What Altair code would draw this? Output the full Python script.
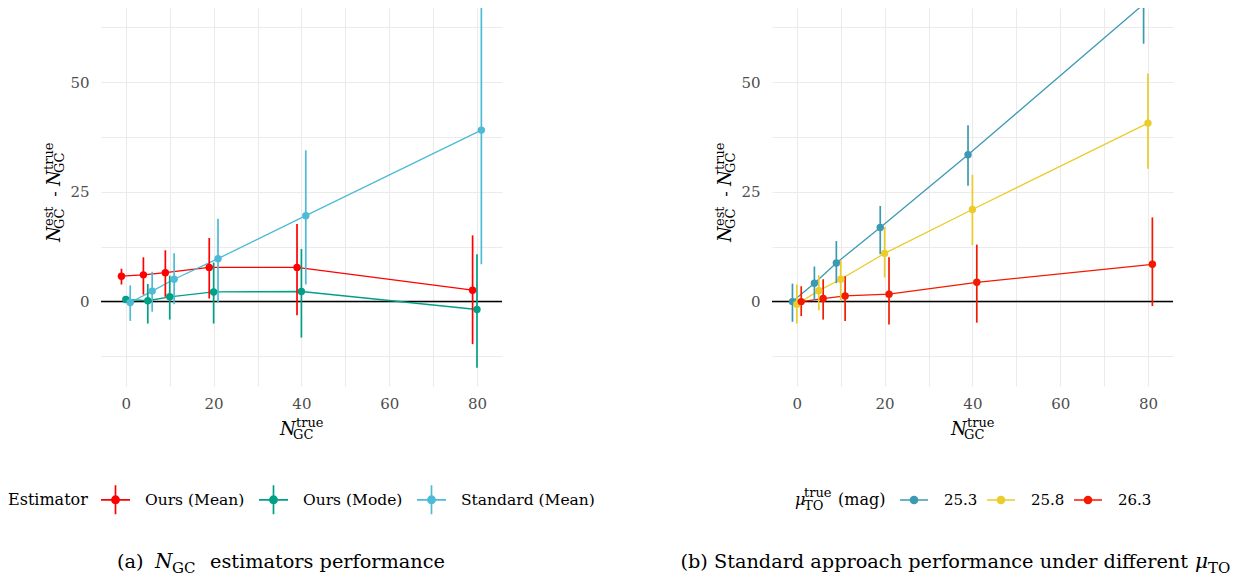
import altair as alt
import pandas as pd

FONT = "DejaVu Serif, Liberation Serif, serif"

# ---------------- data ----------------
N_TRUE = [0, 5, 10, 20, 40, 80]

EST_NAMES = ["Ours (Mean)", "Ours (Mode)", "Standard (Mean)"]
EST_COLORS = ["#FF0000", "#00A087", "#4DBBD5"]
mean_val = [5.8, 6.1, 6.6, 7.8, 7.8, 2.6]
mean_lo = [3.9, 1.6, 1.1, 0.7, -3.1, -9.7]
mean_hi = [7.5, 10.1, 11.7, 14.5, 17.7, 15.1]
mode_val = [0.5, 0.2, 1.1, 2.2, 2.3, -1.8]
mode_lo = [0.0, -5.0, -4.1, -5.0, -8.2, -15.1]
mode_hi = [1.0, 4.0, 5.9, 8.9, 12.0, 10.8]
std_val = [-0.2, 2.4, 5.1, 9.8, 19.6, 39.1]
std_lo = [-4.4, -2.3, -0.6, -0.2, 3.9, 8.5]
std_hi = [3.7, 6.8, 11.0, 18.9, 34.5, 68.3]

MU_NAMES = ["25.3", "25.8", "26.3"]
MU_COLORS = ["#3B9AB2", "#EBCC2A", "#F21A00"]
mu253_val = [0.0, 4.2, 8.8, 16.9, 33.5, 67.8]
mu253_lo = [-4.6, 0.4, 4.2, 10.8, 26.4, 58.8]
mu253_hi = [4.1, 8.0, 13.8, 21.8, 40.2, 76.8]
mu258_val = [-0.6, 2.5, 5.1, 11.0, 21.0, 40.7]
mu258_lo = [-5.0, -2.0, 0.1, 5.5, 12.9, 30.3]
mu258_hi = [3.9, 6.0, 9.5, 17.0, 28.9, 52.0]
mu263_val = [0.0, 0.7, 1.3, 1.7, 4.4, 8.5]
mu263_lo = [-3.3, -4.1, -4.4, -5.2, -4.8, -1.0]
mu263_hi = [3.5, 5.1, 5.8, 10.1, 13.0, 19.2]

X_TICKS = [0, 10, 20, 30, 40, 50, 60, 70, 80]
Y_TICKS = [-12.5, 0, 12.5, 25, 37.5, 50, 62.5]

# ---------------- layout / style ----------------
DODGE_STEP = 1.0
W, H = 401, 378
X_DOMAIN = [-5.66, 85.7]
Y_DOMAIN = [-19.24, 66.94]
GRID = "#EBEBEB"
TICK_COLOR = "#4D4D4D"

PATH_CROSS = "M-1,0H1M0,-1V1M0.25,0A0.25,0.25,0,1,1,-0.25,0A0.25,0.25,0,1,1,0.25,0Z"
PATH_LINE = "M-1,0H1M0.25,0A0.25,0.25,0,1,1,-0.25,0A0.25,0.25,0,1,1,0.25,0Z"


def build(names, vals, los, his):
    rows = []
    k = len(names)
    for i, name in enumerate(names):
        off = (i - (k - 1) / 2) * DODGE_STEP
        for n, v, lo, hi in zip(N_TRUE, vals[i], los[i], his[i]):
            rows.append({"series": name, "ntrue": n, "xd": n + off,
                         "val": v, "lo": lo, "hi": hi})
    return pd.DataFrame(rows)


df_left = build(EST_NAMES, [mean_val, mode_val, std_val],
                [mean_lo, mode_lo, std_lo], [mean_hi, mode_hi, std_hi])
df_right = build(MU_NAMES, [mu253_val, mu258_val, mu263_val],
                 [mu253_lo, mu258_lo, mu263_lo], [mu253_hi, mu258_hi, mu263_hi])

ONE = alt.Data(values=[{"a": 1}])


def txt(s, x, y, size, italic=False, angle=0, align="left", baseline="alphabetic"):
    return alt.Chart(ONE).mark_text(
        text=s, font=FONT, fontSize=size, fontStyle="italic" if italic else "normal",
        angle=angle, align=align, baseline=baseline, color="black"
    ).encode(x=alt.value(x), y=alt.value(y))


def n_label_h(x, y, sup, sub, size=18, subsize=13):
    return [txt("N", x, y, size, italic=True),
            txt(sup, x + 16, y - 8, subsize),
            txt(sub, x + 13, y + 4, subsize)]


def n_label_v(x, y, sup, sub, size=18, subsize=13):
    return [txt("N", x, y, size, italic=True, angle=270),
            txt(sup, x - 7, y - 16, subsize, angle=270),
            txt(sub, x + 4, y - 13, subsize, angle=270)]


def axis_titles():
    parts = []
    parts += n_label_h(179, 427, "true", "GC")
    parts += n_label_v(-41, 234, "est", "GC")
    parts.append(txt("-", -41, 186, 16, angle=270, align="center"))
    parts += n_label_v(-41, 178, "true", "GC")
    return parts


XAXIS = alt.Axis(values=X_TICKS, labelExpr="datum.value % 20 === 0 ? datum.label : ''",
                 title=None, grid=True, gridColor=GRID, gridWidth=1.1, domain=False,
                 ticks=False, labelFont=FONT, labelFontSize=15, labelColor=TICK_COLOR,
                 labelPadding=10)
YAXIS = alt.Axis(values=Y_TICKS, labelExpr="datum.value % 25 === 0 ? datum.label : ''",
                 title=None, grid=True, gridColor=GRID, gridWidth=1.1, domain=False,
                 ticks=False, labelFont=FONT, labelFontSize=15, labelColor=TICK_COLOR,
                 labelPadding=12)


def panel(df, names, colors, legend, extra):
    XS = alt.Scale(domain=X_DOMAIN, nice=False, zero=False)
    YS = alt.Scale(domain=Y_DOMAIN, nice=False, zero=False)
    x = alt.X("xd:Q", scale=XS, axis=XAXIS)
    y = alt.Y("val:Q", scale=YS, axis=YAXIS)
    color = alt.Color("series:N", scale=alt.Scale(domain=names, range=colors), legend=legend)
    zero = alt.Chart(pd.DataFrame({"val": [0.0]})).mark_rule(
        color="black", strokeWidth=1.5).encode(y=y)
    base = alt.Chart(df)
    lines = base.mark_line(strokeWidth=1.3, clip=True).encode(x=x, y=y, color=color)
    bars = base.mark_rule(strokeWidth=1.7, clip=True).encode(
        x=x, y=alt.Y("lo:Q", scale=YS, axis=YAXIS), y2="hi:Q", color=color)
    pts = base.mark_circle(size=55, opacity=1, clip=True).encode(x=x, y=y, color=color)
    return alt.layer(zero, lines, bars, pts, *axis_titles(), *extra).properties(
        width=W, height=H)


legend_left = alt.Legend(orient="none", legendX=-1, legendY=476, direction="horizontal",
                         title=None, symbolType=PATH_CROSS, symbolSize=841,
                         symbolStrokeWidth=1.7, symbolOpacity=1, labelFont=FONT,
                         labelFontSize=15.5, labelColor="black", labelOffset=14,
                         columnPadding=10, padding=0)
legend_right = alt.Legend(orient="none", legendX=127, legendY=477, direction="horizontal",
                          title=None, symbolType=PATH_LINE, symbolSize=784,
                          symbolStrokeWidth=1.7, symbolOpacity=1, labelFont=FONT,
                          labelFontSize=15, labelColor="black", labelOffset=15,
                          columnPadding=5, padding=0)

extra_left = [
    txt("Estimator", -93, 497, 16),
    txt("(a)", 16, 559.5, 19.3),
    txt("N", 54, 559.5, 20, italic=True),
    txt("GC", 71, 564.5, 15),
    txt("estimators performance", 109, 559.5, 19.3),
]
extra_right = [
    txt("μ", 23, 497, 16, italic=True),
    txt("true", 32, 489, 13),
    txt("TO", 32, 502, 13),
    txt("(mag)", 66, 497, 16),
    txt("(b) Standard approach performance under different", 416, 559.5, 19.3, align="right"),
    txt("μ", 423, 559.5, 20, italic=True),
    txt("TO", 436, 564.5, 15),
]

left = panel(df_left, EST_NAMES, EST_COLORS, legend_left, extra_left)
right = panel(df_right, MU_NAMES, MU_COLORS, legend_right, extra_right)

chart = alt.hconcat(left, right, spacing=270, bounds="flush").resolve_scale(
    color="independent", x="independent", y="independent"
).resolve_legend(color="independent").properties(
    padding=0, background="white"
).configure_view(strokeWidth=0)

chart.save("out.html", embed_options={"renderer": "svg", "actions": False})
